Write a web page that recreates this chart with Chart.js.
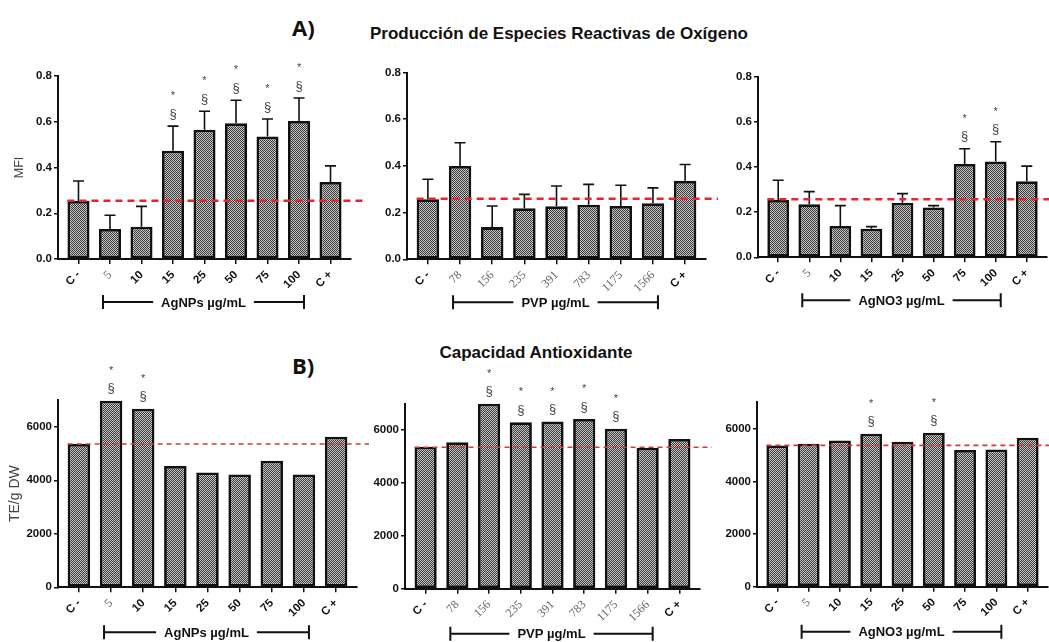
<!DOCTYPE html>
<html><head><meta charset="utf-8">
<script src="https://cdn.jsdelivr.net/npm/chart.js@4.4.1/dist/chart.umd.min.js"></script>
<style>
html,body{margin:0;padding:0;background:#fff;}
body{width:1049px;height:642px;position:relative;overflow:hidden;font-family:'Liberation Sans',Arial,sans-serif;}
canvas{position:absolute;}
.t{position:absolute;white-space:nowrap;line-height:1;color:#111;}
</style></head><body>
<div class="t" style="left:292px;top:11.5px;font:700 22px 'Open Sans';">A)</div>
<div class="t" style="left:292px;top:349.5px;font:700 22px 'Open Sans';">B)</div>
<div class="t" style="left:309px;top:23.5px;width:500px;text-align:center;font:700 17px 'Liberation Sans';">Producción de Especies Reactivas de Oxígeno</div>
<div class="t" style="left:386px;top:343px;width:300px;text-align:center;font:700 17px 'Liberation Sans';">Capacidad Antioxidante</div>
<script>
// ---------- DATA ----------
const catAg  = ['C -','5','10','15','25','50','75','100','C +'];
const catPVP = ['C -','78','156','235','391','783','1175','1566','C +'];
const serifLabels = ['5','78','156','235','391','783','1175','1566'];

// A) ROS production (MFI): means and SEM (upper error)
const mfiAgNPs  = [0.254,0.131,0.141,0.473,0.565,0.593,0.535,0.603,0.337];
const semAgNPs  = [0.087,0.060,0.089,0.108,0.081,0.101,0.077,0.101,0.070];
const mfiPVP    = [0.257,0.400,0.138,0.219,0.227,0.234,0.228,0.240,0.336];
const semPVP    = [0.086,0.099,0.090,0.059,0.087,0.087,0.089,0.066,0.070];
const mfiAgNO3  = [0.254,0.235,0.139,0.127,0.242,0.221,0.413,0.424,0.337];
const semAgNO3  = [0.087,0.056,0.090,0.009,0.040,0.008,0.068,0.088,0.067];
const refMfiAgNPs = 0.255, refMfiPVP = 0.259, refMfiAgNO3 = 0.257;

// B) Antioxidant capacity (TE/g DW)
const teAgNPs = [5353,6971,6672,4531,4295,4220,4730,4220,5627];
const tePVP   = [5370,5534,6990,6290,6315,6416,6050,5332,5660];
const teAgNO3 = [5367,5430,5557,5810,5506,5848,5190,5215,5658];
const refTeAgNPs = 5353, refTePVP = 5345, refTeAgNO3 = 5367;

// significance marks (* and §)
const sigA1 = [0,0,0,1,1,1,1,1,0];
const sigA2 = [0,0,0,0,0,0,0,0,0];
const sigA3 = [0,0,0,0,0,0,1,1,0];
const sigB1 = [0,1,1,0,0,0,0,0,0];
const sigB2 = [0,0,1,1,1,1,1,0,0];
const sigB3 = [0,0,0,1,0,1,0,0,0];

const mfiTicks = [0,0.2,0.4,0.6,0.8];
const teTicks  = [0,2000,4000,6000];

// ---------- LAYOUT (page pixel geometry of each panel) ----------
const layout = {
  A1:{cl:0,   ct:50,  cw:372, ch:262, L:58,  R:351,  T:76,    B:259},
  A2:{cl:350, ct:50,  cw:372, ch:262, L:407, R:706,  T:72.5,  B:259.3},
  A3:{cl:700, ct:50,  cw:349, ch:262, L:758, R:1047, T:76.7,  B:257.3},
  B1:{cl:0,   ct:355, cw:372, ch:287, L:58,  R:357,  T:400,   B:587.3},
  B2:{cl:350, ct:355, cw:372, ch:287, L:405, R:700,  T:403.5, B:588.7},
  B3:{cl:700, ct:355, cw:349, ch:287, L:757, R:1048, T:402.4, B:586.7}
};

const panels = [
  {g:layout.A1, labels:catAg,  values:mfiAgNPs, sem:semAgNPs, ref:refMfiAgNPs, sig:sigA1, group:'AgNPs µg/mL', kind:'A', yTitle:'MFI'},
  {g:layout.A2, labels:catPVP, values:mfiPVP,   sem:semPVP,   ref:refMfiPVP,   sig:sigA2, group:'PVP µg/mL',   kind:'A', yTitle:''},
  {g:layout.A3, labels:catAg,  values:mfiAgNO3, sem:semAgNO3, ref:refMfiAgNO3, sig:sigA3, group:'AgNO3 µg/mL', kind:'A', yTitle:''},
  {g:layout.B1, labels:catAg,  values:teAgNPs,  sem:null,     ref:refTeAgNPs,  sig:sigB1, group:'AgNPs µg/mL', kind:'B', yTitle:'TE/g DW'},
  {g:layout.B2, labels:catPVP, values:tePVP,    sem:null,     ref:refTePVP,    sig:sigB2, group:'PVP µg/mL',   kind:'B', yTitle:''},
  {g:layout.B3, labels:catAg,  values:teAgNO3,  sem:null,     ref:refTeAgNO3,  sig:sigB3, group:'AgNO3 µg/mL', kind:'B', yTitle:''}
];

Chart.defaults.font.family = "'Liberation Sans', Arial, sans-serif";

const pattern = (() => {
  const c = document.createElement('canvas'); c.width = 2; c.height = 2;
  const g = c.getContext('2d');
  g.fillStyle = '#c6c6c6'; g.fillRect(0,0,2,2);
  g.fillStyle = '#3a3a3a'; g.fillRect(0,0,1,1); g.fillRect(1,1,1,1);
  return g.createPattern(c, 'repeat');
})();

function overlay(p) {
  return {
    id: 'overlay',
    afterDatasetsDraw(chart) {
      const ctx = chart.ctx, xs = chart.scales.x, ys = chart.scales.y, ca = chart.chartArea;
      const meta = chart.getDatasetMeta(0);
      ctx.save();
      // error bars
      if (p.sem) {
        ctx.strokeStyle = '#111'; ctx.lineWidth = 1.6; ctx.setLineDash([]);
        p.values.forEach((v, i) => {
          const x = meta.data[i].x;
          const y0 = ys.getPixelForValue(v), y1 = ys.getPixelForValue(v + p.sem[i]);
          ctx.beginPath();
          ctx.moveTo(x, y0); ctx.lineTo(x, y1);
          ctx.moveTo(x - 5.5, y1); ctx.lineTo(x + 5.5, y1);
          ctx.stroke();
        });
      }
      // reference (control) line
      const yr = ys.getPixelForValue(p.ref);
      ctx.beginPath();
      if (p.kind === 'A') { ctx.strokeStyle = '#e3262b'; ctx.lineWidth = 2.5; ctx.setLineDash([7,5]); }
      else { ctx.strokeStyle = '#d43a3a'; ctx.lineWidth = 1.6; ctx.setLineDash([5,4]); }
      ctx.moveTo(xs.getPixelForValue(-0.35), yr); ctx.lineTo(ca.right + 12, yr);
      ctx.stroke();
      ctx.setLineDash([]);
      // significance marks
      ctx.fillStyle = '#444'; ctx.textAlign = 'center'; ctx.textBaseline = 'middle';
      p.sig.forEach((s, i) => {
        if (!s) return;
        const x = meta.data[i].x;
        const top = ys.getPixelForValue(p.values[i] + (p.sem ? p.sem[i] : 0));
        ctx.font = "13px 'Liberation Sans'";
        ctx.fillText('§', x, top - 12);
        ctx.font = "11px 'Liberation Sans'";
        ctx.fillText('*', x, top - 30);
      });
      // group bracket
      const yb = ca.bottom + (p.kind === 'A' ? 43 : 45);
      const x1 = xs.getPixelForValue(1) - 7, x2 = xs.getPixelForValue(7) + 5;
      const cx = (x1 + x2) / 2;
      ctx.font = "bold 13px 'Liberation Sans'";
      const w = ctx.measureText(p.group).width;
      ctx.fillStyle = '#111';
      ctx.fillText(p.group, cx, yb + 1);
      ctx.strokeStyle = '#111'; ctx.lineWidth = 2;
      ctx.beginPath();
      ctx.moveTo(x1, yb); ctx.lineTo(cx - w/2 - 8, yb);
      ctx.moveTo(cx + w/2 + 8, yb); ctx.lineTo(x2, yb);
      ctx.moveTo(x1, yb - 7); ctx.lineTo(x1, yb + 7);
      ctx.moveTo(x2, yb - 7); ctx.lineTo(x2, yb + 7);
      ctx.stroke();
      ctx.restore();
    }
  };
}

panels.forEach(p => {
  const g = p.g;
  const cv = document.createElement('canvas');
  cv.width = g.cw; cv.height = g.ch;
  cv.style.left = g.cl + 'px'; cv.style.top = g.ct + 'px';
  document.body.appendChild(cv);
  const isA = p.kind === 'A';
  const isSerif = (v) => serifLabels.includes(p.labels[v]);
  new Chart(cv, {
    type: 'bar',
    data: { datasets: [{
      data: p.values.map((v, i) => ({x: i, y: v})),
      backgroundColor: pattern, borderColor: '#111', borderWidth: 2.8, borderSkipped: false,
      barPercentage: 1, categoryPercentage: 0.7
    }]},
    options: {
      responsive: false, animation: false, devicePixelRatio: 1,
      layout: { padding: { left: 0, top: g.T - g.ct, right: g.cl + g.cw - g.R, bottom: 0 } },
      plugins: { legend: { display: false }, tooltip: { enabled: false } },
      scales: {
        x: {
          type: 'linear', min: -0.65, max: 8.65, offset: false,
          afterFit: s => { s.height = g.ct + g.ch - g.B; },
          afterBuildTicks: s => { s.ticks = p.labels.map((_, i) => ({value: i})); },
          ticks: {
            stepSize: 1, autoSkip: false, includeBounds: false, minRotation: 45, maxRotation: 45, padding: 4,
            callback: v => p.labels[v],
            font: c => isSerif(c.tick ? c.tick.value : c.index) ? {family: "'Liberation Serif'", size: 12, weight: 'normal'} : {family: "'Liberation Sans'", size: 11.5, weight: 'bold'},
            color: c => isSerif(c.tick ? c.tick.value : c.index) ? '#666' : '#111'
          },
          grid: { display: true, offset: false, drawOnChartArea: false, tickLength: 5, color: '#111', lineWidth: 1.5 },
          border: { display: true, color: '#111', width: 2 }
        },
        y: {
          min: 0, max: isA ? 0.8 : 7000,
          afterFit: s => { s.width = g.L - g.cl; },
          afterBuildTicks: s => { s.ticks = (isA ? mfiTicks : teTicks).map(v => ({value: v})); },
          ticks: {
            autoSkip: false, padding: 2, color: '#111',
            font: { size: 11.5, weight: 'bold' },
            callback: v => isA ? Number(v).toFixed(1) : String(v)
          },
          grid: { display: true, drawOnChartArea: false, tickLength: 4, color: '#111', lineWidth: 1.5 },
          border: { display: true, color: '#111', width: 2 },
          title: { display: !!p.yTitle, text: p.yTitle, color: '#444',
                   font: { size: isA ? 12.5 : 14, weight: 'normal' },
                   padding: { top: isA ? 12 : 7, bottom: 0 } }
        }
      }
    },
    plugins: [overlay(p)]
  });
});
</script>
</body></html>
